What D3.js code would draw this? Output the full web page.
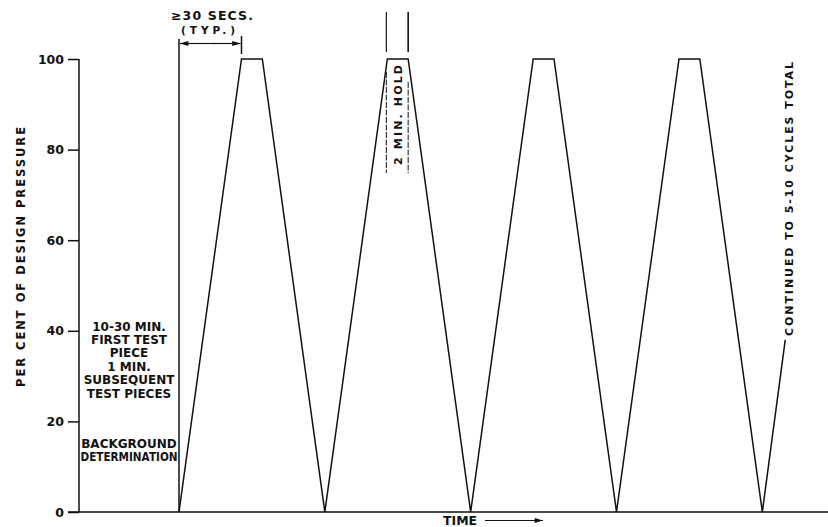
<!DOCTYPE html>
<html><head><meta charset="utf-8">
<script src="https://cdn.jsdelivr.net/npm/d3@7"></script>
<style>body{margin:0;background:#fff}svg{display:block}text{font-family:"DejaVu Sans",sans-serif;fill:#111}</style>
</head><body><svg id="c" width="828" height="527"></svg>
<script>
// Data (schematic time units)
const cycleTimes = [4.8, 7.8, 8.8, 11.8, 14.8, 15.8, 18.8, 21.8, 22.8, 25.8, 28.8, 29.8, 32.8, 33.9];
const cyclePressure = [0, 100, 100, 0, 100, 100, 0, 100, 100, 0, 100, 100, 0, 38];
const yTicks = [0, 20, 40, 60, 80, 100];
const leftNote1 = ["10-30 MIN.", "FIRST TEST", "PIECE", "1 MIN.", "SUBSEQUENT", "TEST PIECES"];
const leftNote2 = ["BACKGROUND", "DETERMINATION"];

const svg = d3.select("#c");
const x = d3.scaleLinear().domain([0, 36]).range([79, 829]);
const y = d3.scaleLinear().domain([0, 100]).range([512, 59]);
const ink = "#111";

// y axis
const yAxis = d3.axisLeft(y).tickValues(yTicks).tickSize(11).tickPadding(4).tickFormat(d3.format("d"));
const ga = svg.append("g").attr("transform", `translate(${x(0)},0)`).call(yAxis);
ga.select(".domain").remove();
ga.selectAll("line").attr("stroke", ink).attr("stroke-width", 1.5);
ga.selectAll("text").style("font-size", "12.5px").style("font-weight", "bold").attr("fill", ink);
svg.append("line").attr("x1", x(0)).attr("x2", x(0)).attr("y1", y(0)).attr("y2", y(100))
  .attr("stroke", ink).attr("stroke-width", 1.5);
// x axis line
svg.append("line").attr("x1", 68).attr("x2", 828).attr("y1", y(0)).attr("y2", y(0))
  .attr("stroke", ink).attr("stroke-width", 1.5);

// y label
svg.append("text").attr("transform", `translate(25,257) rotate(-90)`).attr("text-anchor", "middle")
  .style("font-size", "11.5px").style("font-weight", "bold").attr("textLength", 260)
  .text("PER CENT OF DESIGN PRESSURE");

// waveform
const pts = cycleTimes.map((t, i) => [x(t), y(cyclePressure[i])]);
svg.append("path").attr("d", d3.line()(pts)).attr("fill", "none").attr("stroke", ink).attr("stroke-width", 1.5);

// background boundary line
svg.append("line").attr("x1", x(cycleTimes[0])).attr("x2", x(cycleTimes[0]))
  .attr("y1", y(0)).attr("y2", 39).attr("stroke", ink).attr("stroke-width", 1.5);
// dimension >=30 secs
svg.append("line").attr("x1", x(cycleTimes[1])).attr("x2", x(cycleTimes[1]))
  .attr("y1", 36).attr("y2", 54).attr("stroke", ink).attr("stroke-width", 1.5);
const defs = svg.append("defs");
defs.append("marker").attr("id", "ah").attr("viewBox", "0 0 10 6").attr("refX", 10).attr("refY", 3)
  .attr("markerWidth", 10).attr("markerHeight", 5).attr("markerUnits", "userSpaceOnUse").attr("orient", "auto")
  .append("path").attr("d", "M0,0L10,3L0,6Z").attr("fill", ink);
const dimMid = (x(cycleTimes[0]) + x(cycleTimes[1])) / 2;
svg.append("line").attr("x1", dimMid).attr("x2", x(cycleTimes[0]) + 1).attr("y1", 43.5).attr("y2", 43.5)
  .attr("stroke", ink).attr("stroke-width", 1.2).attr("marker-end", "url(#ah)");
svg.append("line").attr("x1", dimMid).attr("x2", x(cycleTimes[1]) - 1).attr("y1", 43.5).attr("y2", 43.5)
  .attr("stroke", ink).attr("stroke-width", 1.2).attr("marker-end", "url(#ah)");
svg.append("text").attr("x", 212).attr("y", 20).attr("text-anchor", "middle")
  .style("font-size", "12.5px").style("font-weight", "bold").attr("textLength", 82).text("\u226530 SECS.");
svg.append("text").attr("x", 208).attr("y", 34).attr("text-anchor", "middle")
  .style("font-size", "10.5px").style("font-weight", "bold").attr("textLength", 54).text("(TYP.)");

// 2 min hold markers
[cycleTimes[4], cycleTimes[5]].forEach((t, i) => {
  const xx = x(t) + (i === 0 ? -1 : 0);
  svg.append("line").attr("x1", xx).attr("x2", xx).attr("y1", 12).attr("y2", 52)
    .attr("stroke", ink).attr("stroke-width", i === 0 ? 1.2 : 1.6);
  svg.append("line").attr("x1", xx).attr("x2", xx).attr("y1", i === 0 ? 72 : 82).attr("y2", 173)
    .attr("stroke", ink).attr("stroke-width", 1).attr("stroke-dasharray", "6,1.5");
});
svg.append("text").attr("transform", `translate(${(x(cycleTimes[4]) + x(cycleTimes[5])) / 2 + 4},115) rotate(-90)`)
  .attr("text-anchor", "middle").style("font-size", "11px").style("font-weight", "bold")
  .attr("textLength", 100).text("2 MIN. HOLD");

// left notes
const cx = (x(0) + x(cycleTimes[0])) / 2;
svg.append("g").selectAll("text").data(leftNote1).join("text")
  .attr("x", cx).attr("y", (d, i) => 330.5 + i * 13.4).attr("text-anchor", "middle")
  .style("font-size", "12px").style("font-weight", "bold").text(d => d);
svg.append("g").selectAll("text").data(leftNote2).join("text")
  .attr("x", cx).attr("y", (d, i) => 447.5 + i * 13.4).attr("text-anchor", "middle")
  .style("font-size", "12px").style("font-weight", "bold")
  .attr("textLength", (d, i) => i === 1 ? 97 : null).attr("lengthAdjust", "spacingAndGlyphs").text(d => d);

// continuation note
svg.append("text").attr("transform", `translate(793,336) rotate(-90)`).attr("text-anchor", "start")
  .style("font-size", "11px").style("font-weight", "bold").attr("textLength", 274)
  .text("CONTINUED TO 5-10 CYCLES TOTAL");

// time label
svg.append("text").attr("x", 443).attr("y", 525).style("font-size", "12.5px").style("font-weight", "bold").text("TIME");
svg.append("line").attr("x1", 485).attr("x2", 543).attr("y1", 520.5).attr("y2", 520.5)
  .attr("stroke", ink).attr("stroke-width", 1.2).attr("marker-end", "url(#ah)");
</script></body></html>
